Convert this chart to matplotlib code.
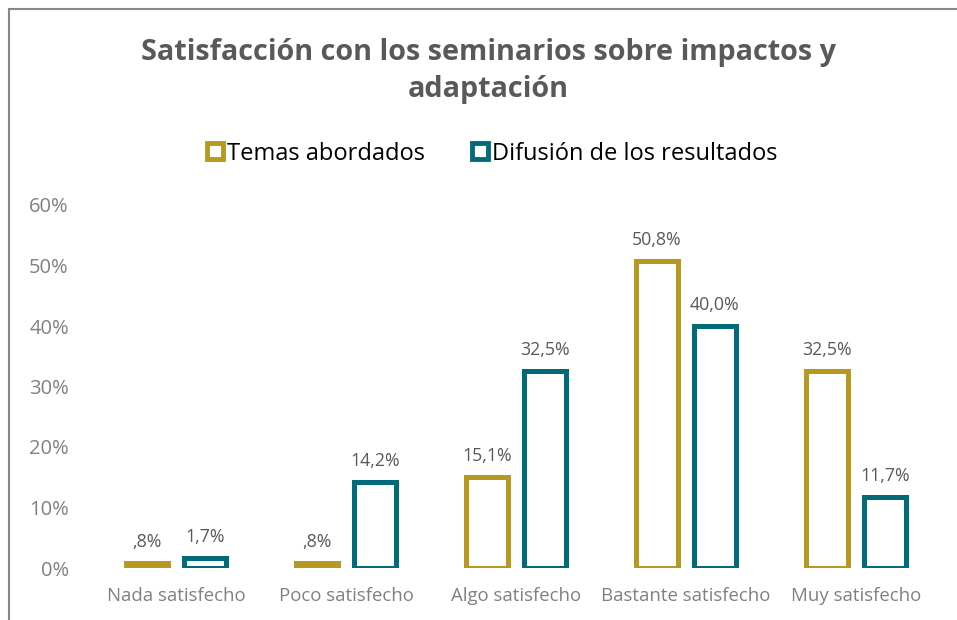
import numpy as np
import matplotlib.pyplot as plt
from matplotlib.lines import Line2D
from matplotlib.patches import Rectangle

# Data
categorias = ['Nada satisfecho', 'Poco satisfecho', 'Algo satisfecho',
              'Bastante satisfecho', 'Muy satisfecho']
temas = [0.8, 0.8, 15.1, 50.8, 32.5]
difusion = [1.7, 14.2, 32.5, 40.0, 11.7]
temas_lbl = [',8%', ',8%', '15,1%', '50,8%', '32,5%']
difusion_lbl = ['1,7%', '14,2%', '32,5%', '40,0%', '11,7%']
yticks = [0, 10, 20, 30, 40, 50, 60]

gold, teal = '#B8991F', '#006C7A'
plt.rcParams['font.family'] = ['Open Sans', 'DejaVu Sans']

fw, fh = 9.57, 6.20
fig = plt.figure(figsize=(fw, fh), dpi=100)
ax = fig.add_axes([91/957, 52/620, 850/957, 363/620])

x = np.arange(len(categorias))
w, off, lw = 0.25, 0.17, 3.6
for xs, vals, lbls, col in [(x - off, temas, temas_lbl, gold),
                            (x + off, difusion, difusion_lbl, teal)]:
    ax.bar(xs, vals, width=w, facecolor='white', edgecolor=col,
           linewidth=lw, joinstyle='miter')
    for xi, v, t in zip(xs, vals, lbls):
        ax.text(xi, v + 2.0, t, ha='center', va='bottom', fontsize=12.8,
                color='#595959')

ax.set_xlim(-0.5, 4.5)
ax.set_ylim(0, 60)
ax.set_yticks(yticks)
ax.set_yticklabels(['%d%%' % v for v in yticks])
ax.set_xticks(x)
ax.set_xticklabels(categorias)
ax.tick_params(axis='both', length=0, labelcolor='#808080')
ax.tick_params(axis='y', pad=16, labelsize=14.5)
ax.tick_params(axis='x', pad=14, labelsize=13.4)
for s in ax.spines.values():
    s.set_visible(False)

fig.text(0.51, 0.885, 'Satisfacción con los seminarios sobre impactos y\nadaptación',
         ha='center', va='center', fontsize=20.7, fontweight='bold',
         color='#595959', linespacing=1.38)

# legend with hollow square markers
handles = [Line2D([], [], marker='s', linestyle='none', markersize=12,
                  markerfacecolor='white', markeredgecolor=c,
                  markeredgewidth=3.5) for c in (gold, teal)]
fig.legend(handles, ['Temas abordados', 'Difusión de los resultados'],
           loc='center', bbox_to_anchor=(0.513, 0.752), ncol=2, frameon=False,
           fontsize=17, handletextpad=0.05, columnspacing=1.9,
           handlelength=0.9)

# chart border (only top and left edges inside the image)
fig.add_artist(Rectangle((9/957, -0.1), 1.2, 0.1 + 611/620,
                         transform=fig.transFigure, fill=False,
                         edgecolor='#878787', linewidth=1.5))

plt.savefig('out.png', dpi=100)
